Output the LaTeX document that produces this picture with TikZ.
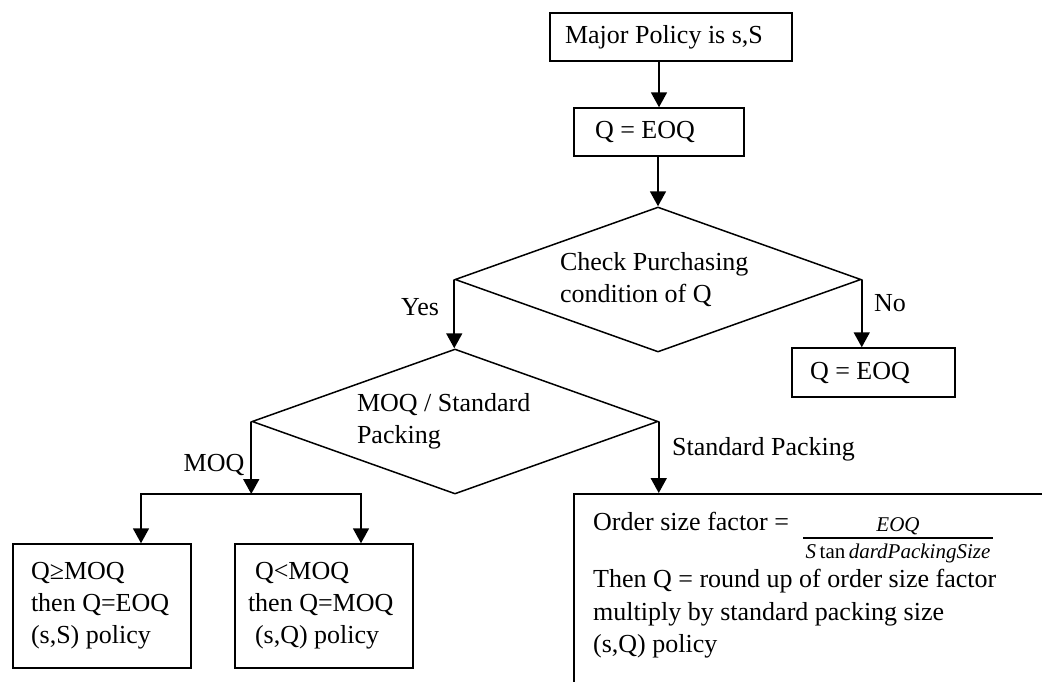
\documentclass[tikz,border=0pt]{standalone}
\usepackage{fontspec}
\setmainfont{Liberation Serif}
\usetikzlibrary{shapes.geometric,arrows.meta}
\begin{document}
\begin{tikzpicture}[x=1pt,y=-1pt,
  font=\fontsize{26}{32}\selectfont,
  box/.style={draw,line width=1.5pt,rectangle,align=flush left,inner ysep=0pt},
  decision/.style={draw,line width=1.5pt,diamond,aspect=2.8,inner sep=0pt,
    minimum width=406pt,minimum height=145pt,text width=196pt,align=flush left},
  flow/.style={line width=1.8pt,-{Triangle[length=15pt,width=16pt]}},
  link/.style={line width=1.8pt,line cap=rect},
  lbl/.style={inner sep=0pt}]
\useasboundingbox (0,0) rectangle (1042,681);
\clip (0,0) rectangle (1042,681);
\fill[white] (0,0) rectangle (1042,681);

% main chain
\node[box,minimum height=48pt,text width=212pt,inner xsep=15pt] (major) at (671,37) {Major Policy is s,S};
\node[box,minimum height=48pt,text width=128pt,inner xsep=21pt] (eoq) at (659,132) {Q = EOQ};
\node[decision] (check) at (658,279.5) {Check Purchasing\\condition of Q};
\node[box,minimum height=49pt,text width=127pt,inner xsep=18pt] (eoqno) at (873.5,372.5) {Q = EOQ};
\node[decision] (moq) at (455,421.5) {MOQ / Standard\\Packing};

% MOQ outcomes
\node[box,minimum height=124pt,text width=142pt,inner xsep=18pt] (ge) at (102,606) {Q≥MOQ\\then Q=EOQ\\(s,S) policy};
\node[box,minimum height=124pt,text width=152pt,inner xsep=13pt] (lt) at (324,606) {\hspace{7pt}Q<MOQ\\then Q=MOQ\\\hspace{7pt}(s,Q) policy};

% standard packing outcome
\node[box,anchor=north west,minimum width=520pt,minimum height=240pt] (pack) at (573,493) {};
\node[lbl,anchor=base west] (osf) at (593,530) {Order size factor =};
\node[lbl,anchor=base,font=\fontsize{21}{24}\selectfont\itshape] (num) at (898,531) {EOQ};
\node[lbl,anchor=base,font=\fontsize{21}{24}\selectfont] (den) at (898,558) {\textit{S}\,tan\,\textit{dardPackingSize}};
\draw[line width=1.2pt] (803,538) -- (993,538);
\node[lbl,anchor=base west] (then) at (593,587) {Then Q = round up of order size factor};
\node[lbl,anchor=base west] (mult) at (593,620) {multiply by standard packing size};
\node[lbl,anchor=base west] (pol) at (593,652) {(s,Q) policy};

% branch labels
\node[lbl] (yes) at (420,307) {Yes};
\node[lbl] (no) at (890,303) {No};
\node[lbl] (moqlbl) at (214,465) {MOQ};
\node[lbl,anchor=west] (splbl) at (672,449) {Standard Packing};

% connectors
\draw[flow] (eoq.north |- major.south) -- (eoq.north);
\draw[flow] (check.north |- eoq.south) -- (check.north);
\draw[flow] (check.west) -- (check.west |- moq.north);
\draw[flow] (check.east) -- (check.east |- eoqno.north);
\coordinate (jl) at (141,494);
\coordinate (jr) at (361,494);
\draw[flow] (moq.west) -- (moq.west |- jl);
\draw[link] (jl) -- (jr);
\draw[flow] (jl) -- (jl |- ge.north);
\draw[flow] (jr) -- (jr |- lt.north);
\draw[flow] (moq.east) -- (moq.east |- pack.north);
\end{tikzpicture}
\end{document}
